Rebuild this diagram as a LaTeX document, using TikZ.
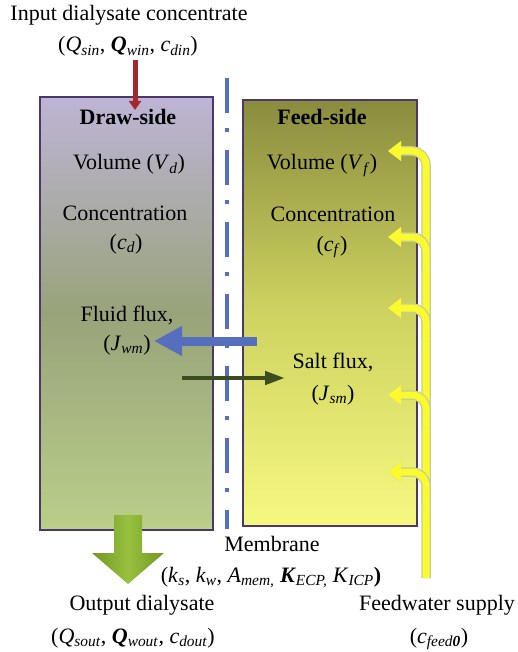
\documentclass[tikz,border=0pt]{standalone}
\usepackage{fontspec}
\setmainfont{Liberation Serif}
\usepackage{xcolor}
\usetikzlibrary{arrows.meta,positioning,calc}
\definecolor{DrawTop}{RGB}{190,180,214}
\definecolor{DrawMid}{RGB}{152,163,122}
\definecolor{DrawBot}{RGB}{186,207,137}
\definecolor{FeedTop}{RGB}{138,140,62}
\definecolor{FeedMid}{RGB}{206,211,96}
\definecolor{FeedBot}{RGB}{246,248,128}
\definecolor{BoxEdge}{RGB}{75,55,105}
\definecolor{MemBlue}{RGB}{85,110,190}
\definecolor{InRed}{RGB}{165,40,45}
\definecolor{SaltGreen}{RGB}{60,78,32}
\definecolor{OutDark}{RGB}{112,152,38}
\definecolor{OutLight}{RGB}{152,192,62}
\definecolor{FeedYellow}{RGB}{250,250,45}
\definecolor{FeedGlow}{RGB}{196,204,160}
\newcommand{\vsub}[2]{\textit{#1}\textsubscript{\textit{#2}}}
\newcommand{\bsub}[2]{\textbf{\textit{#1}}\textsubscript{\textit{#2}}}
\tikzset{
  txt/.style={font=\fontsize{22}{30}\selectfont,inner sep=0pt,anchor=base},
  sidebox/.style={draw=BoxEdge,line width=2.5pt,inner sep=0pt},
  membrane/.style={draw=MemBlue,line width=4pt,dash pattern=on 35pt off 15pt on 4pt off 18pt},
  inflow/.style={-{Triangle[width=12pt,length=9pt]},line width=5pt,draw=InRed},
  fluidflow/.style={-{Triangle[width=28pt,length=28pt]},line width=9pt,draw=MemBlue},
  saltflow/.style={-{Triangle[width=13pt,length=20pt]},line width=4.5pt,draw=SaltGreen},
  feedline/.style={-{Triangle[width=19pt,length=13pt]},line width=7pt,draw=FeedYellow,
                   rounded corners=14pt,preaction={draw=FeedGlow,line width=9.5pt}},
  outarrow/.style={left color=OutDark,right color=OutDark,middle color=OutLight}
}

\begin{document}
\begin{tikzpicture}[x=1pt,y=-1pt]
  \useasboundingbox (0,0) rectangle (517,652);

  % two compartments
  \node[sidebox,minimum width=173pt,minimum height=433pt,
        top color=DrawTop,bottom color=DrawBot,middle color=DrawMid] (drawbox) at (126.5,313.5) {};
  \node[sidebox,minimum width=174pt,minimum height=426pt,
        top color=FeedTop,bottom color=FeedBot,middle color=FeedMid] (feedbox) at (330,313) {};

  % membrane
  \coordinate (memtop) at (227,78);
  \coordinate (membot) at (227,529);
  \draw[membrane] (memtop) -- (membot);

  % dialysate in and out
  \node[txt] (intitle) at (129,21) {Input dialysate concentrate};
  \node[txt] (inparams) at (128,52) {(\vsub{Q}{sin}, \bsub{Q}{win}, \vsub{c}{din})};
  \coordinate (instart) at (135,60);
  \coordinate (inend) at (135,110);
  \draw[inflow] (instart) -- (inend);

  \path[outarrow] (114,515) -- (142,515) -- (142,553) -- (164,553) -- (128,584)
                  -- (92,553) -- (114,553) -- cycle;
  \node[txt] (outtitle) at (142,610) {Output dialysate};
  \node[txt] (outparams) at (133,643) {(\vsub{Q}{sout}, \bsub{Q}{wout}, \vsub{c}{dout})};

  % draw-side texts
  \node[txt] (drawname) at (128,125) {\textbf{Draw-side}};
  \node[txt] (drawvol) at (129,170) {Volume (\vsub{V}{d})};
  \node[txt] (drawconc) at (125,220) {Concentration};
  \node[txt] (drawc) at (126,249) {(\vsub{c}{d})};
  \node[txt] (fluidname) at (127,321) {Fluid flux,};
  \node[txt] (fluidsym) at (127,350) {(\vsub{J}{wm})};

  % feed-side texts
  \node[txt] (feedname) at (322,125) {\textbf{Feed-side}};
  \node[txt] (feedvol) at (322,170) {Volume (\vsub{V}{f})};
  \node[txt] (feedconc) at (333,222) {Concentration};
  \node[txt] (feedc) at (332,251) {(\vsub{c}{f})};
  \node[txt] (saltname) at (333,368) {Salt flux,};
  \node[txt] (saltsym) at (333,400) {(\vsub{J}{sm})};

  % fluxes across the membrane
  \coordinate (fluidstart) at (257,341);
  \coordinate (fluidend) at (154,341);
  \draw[fluidflow] (fluidstart) -- (fluidend);
  \coordinate (saltstart) at (182,378);
  \coordinate (saltend) at (285,378);
  \draw[saltflow] (saltstart) -- (saltend);

  \node[txt] (memname) at (272,551) {Membrane};
  \node[txt] (memparams) at (271,582) {(\vsub{k}{s}, \vsub{k}{w}, \vsub{A}{mem,} \bsub{K}{ECP,} \vsub{K}{ICP}\textbf{)}};

  % feedwater supply
  \coordinate (feedfoot) at (426,578);
  \coordinate (fh1) at (388,151);
  \coordinate (fb2) at (426,270);
  \coordinate (fh2) at (388,237);
  \coordinate (fb3) at (426,341);
  \coordinate (fh3) at (388,308);
  \coordinate (fb4) at (426,428);
  \coordinate (fh4) at (388,395);
  \coordinate (fb5) at (426,505);
  \coordinate (fh5) at (388,472);
  \draw[feedline] (feedfoot) |- (fh1);
  \draw[feedline] (fb2) |- (fh2);
  \draw[feedline] (fb3) |- (fh3);
  \draw[feedline] (fb4) |- (fh4);
  \draw[feedline] (fb5) |- (fh5);
  \node[txt] (feedtitle) at (437,610) {Feedwater supply};
  \node[txt] (feedparams) at (439,643) {(\textit{c}\textsubscript{\textit{feed}\textbf{\textit{0}}})};
\end{tikzpicture}
\end{document}
